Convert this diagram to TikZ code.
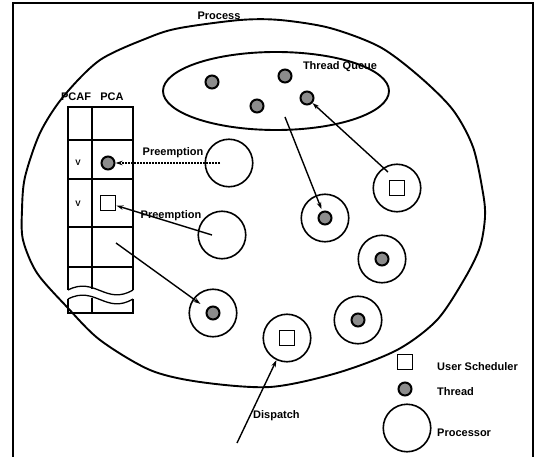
\documentclass[tikz,border=0pt]{standalone}
\usepackage{fontspec}
\setmainfont{Liberation Sans}
\usetikzlibrary{shapes.geometric,arrows.meta}
\begin{document}
\begin{tikzpicture}[x=1pt,y=-1pt,
  lbl/.style={font=\fontsize{11}{13}\selectfont\bfseries, inner sep=0pt},
  small/.style={font=\fontsize{8}{10}\selectfont\bfseries, inner sep=0pt},
  proc/.style={circle,draw,line width=1.6pt,minimum size=47.5pt,inner sep=0pt},
  thread/.style={circle,draw,line width=2pt,fill=black!45,minimum size=13pt,inner sep=0pt},
  usched/.style={rectangle,draw,line width=1.4pt,minimum size=15.5pt,inner sep=0pt},
  arr/.style={-{Stealth[length=7pt,width=4.5pt]},line width=1.4pt},
  tbl/.style={line width=1.3pt},
]
\useasboundingbox (0,0) rectangle (538,457);
% frame
\draw[line width=1.1pt] (13,457) -- (13,3) -- (533,3) -- (533,457);

% process boundary
\draw[line width=1.9pt] plot[smooth cycle] coordinates {(240,20) (280,20) (330,28) (380,47) (420,77) (453,110) (473,147) (483,193) (485,217) (480,247) (465,278) (437,320) (397,350) (337,373) (270,387) (200,382) (150,370) (100,340) (67,307) (37,273) (23,240) (22,210) (25,177) (40,133) (63,97) (100,60) (150,37) (180,28)};
\node[lbl] (process) at (219,16) {Process};

% thread queue
\node[ellipse,draw,line width=1.9pt,minimum width=226pt,minimum height=78pt,inner sep=0pt] (queue) at (276,91) {};
\node[lbl] (qlabel) at (340,67) {Thread Queue};
\node[thread] (q1) at (212,82) {};
\node[thread] (q2) at (257,106) {};
\node[thread] (q3) at (285,76) {};
\node[thread] (q4) at (307,98) {};

% PCAF / PCA table
\node[lbl] (pcaf) at (76,97) {PCAF};
\node[lbl] (pca) at (112,97) {PCA};
\draw[tbl] (68,290) -- (68,107) -- (133,107) -- (133,290);
\draw[tbl] (92,107) -- (92,288.5);
\foreach \yy in {140,179,227,267} \draw[tbl] (68,\yy) -- (133,\yy);
\draw[tbl] (68,290) .. controls (95,276) and (106,306) .. (133,290);
\draw[tbl] (68,299) .. controls (95,285) and (106,315) .. (133,299);
\draw[tbl] (68,299) -- (68,313) -- (133,313) -- (133,299);
\draw[tbl] (92,297.5) -- (92,313);
\node[small] (v1) at (78,163) {V};
\node[small] (v2) at (78,204) {V};
\node[thread] (pcat) at (108,163) {};
\node[usched] (pcas) at (108,203) {};

% processors
\node[proc] (p1) at (229,163) {};
\node[proc] (p2) at (222,235) {};
\node[proc] (p3) at (213,313) {};
\node[thread] (t3) at (213,313) {};
\node[proc] (p4) at (325,218) {};
\node[thread] (t4) at (325,218) {};
\node[proc] (p5) at (397,188) {};
\node[usched] (s5) at (397,188) {};
\node[proc] (p6) at (382,259) {};
\node[thread] (t6) at (382,259) {};
\node[proc] (p7) at (358,320) {};
\node[thread] (t7) at (358,320) {};
\node[proc] (p8) at (287,338) {};
\node[usched] (s8) at (287,338) {};

% connectors
\coordinate (d1) at (220,163);
\draw[arr,line width=1.1pt,dash pattern=on 2pt off 1pt] (d1) -- (pcat);
\node[lbl] (pre1) at (173,153) {Preemption};
\coordinate (d2) at (212,235);
\draw[arr] (d2) -- (pcas);
\node[lbl] (pre2) at (171,216) {Preemption};
\coordinate (c3) at (116,243);
\draw[arr,shorten >=8pt] (c3) -- (t3);
\coordinate (c4) at (285,117);
\draw[arr,shorten >=2pt] (c4) -- (t4);
\coordinate (c5) at (388,172);
\draw[arr] (c5) -- (q4);
\coordinate (c8) at (237,443);
\draw[arr] (c8) -- (p8);
\node[lbl,anchor=west] (disp) at (253,416) {Dispatch};

% legend
\node[usched] (ls) at (405,362) {};
\node[thread] (lt) at (405,389) {};
\node[proc] (lp) at (407,428) {};
\node[lbl,anchor=west] (lsl) at (437,367) {User Scheduler};
\node[lbl,anchor=west] (ltl) at (437,392) {Thread};
\node[lbl,anchor=west] (lpl) at (437,433) {Processor};
\end{tikzpicture}
\end{document}
